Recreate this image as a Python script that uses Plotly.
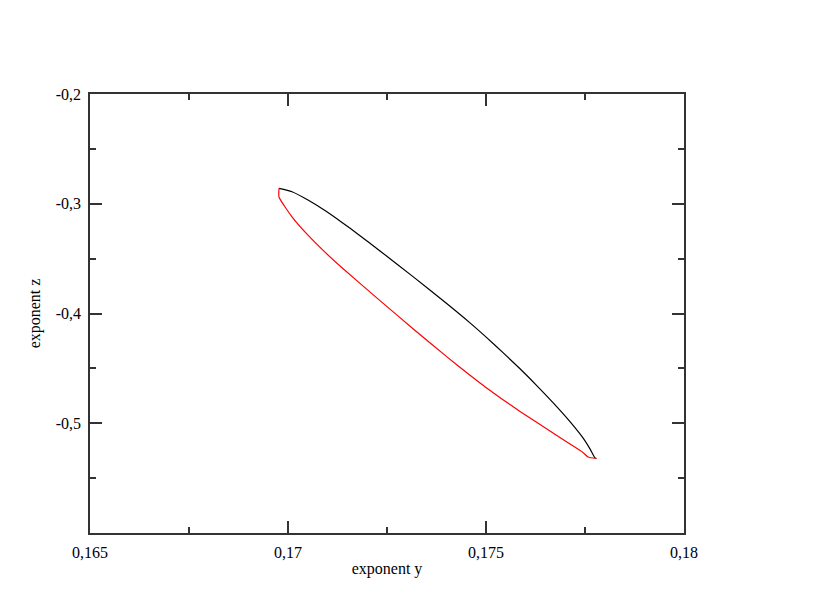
import plotly.graph_objects as go

# Upper boundary (black)
black_y = [0.169773, 0.170101, 0.170505, 0.170934, 0.171364, 0.171768, 0.172323,
           0.173157, 0.174015, 0.174596, 0.175025, 0.175429, 0.175859, 0.176288,
           0.176692, 0.177121, 0.177449, 0.177626, 0.177753, 0.177790]
black_z = [-0.28592, -0.28902, -0.29658, -0.30615, -0.31699, -0.32774, -0.34296,
           -0.36638, -0.39116, -0.40856, -0.42223, -0.43563, -0.45039, -0.46588,
           -0.48118, -0.49850, -0.51335, -0.52337, -0.53157, -0.53212]

# Lower boundary (red)
red_y = [0.169773, 0.169773, 0.170101, 0.170505, 0.170934, 0.171364, 0.172323,
         0.173157, 0.174015, 0.174596, 0.175025, 0.175429, 0.175859, 0.176288,
         0.176692, 0.177121, 0.177449, 0.177576, 0.177790]
red_z = [-0.28592, -0.29385, -0.31189, -0.32866, -0.34414, -0.35836, -0.38825,
         -0.41385, -0.43954, -0.45631, -0.46806, -0.47854, -0.48920, -0.49941,
         -0.50888, -0.51891, -0.52665, -0.53075, -0.53212]

x_tickvals = [0.165, 0.17, 0.175, 0.18]
x_ticktext = ["0,165", "0,17", "0,175", "0,18"]
x_minor = [0.1675, 0.1725, 0.1775]
y_tickvals = [-0.2, -0.3, -0.4, -0.5]
y_ticktext = ["-0,2", "-0,3", "-0,4", "-0,5"]
y_minor = [-0.25, -0.35, -0.45, -0.55]

fig = go.Figure()
fig.add_trace(go.Scatter(x=black_y, y=black_z, mode="lines",
                         line=dict(color="black", width=1.2, shape="spline", smoothing=0.6),
                         showlegend=False))
fig.add_trace(go.Scatter(x=red_y, y=red_z, mode="lines",
                         line=dict(color="red", width=1.2, shape="spline", smoothing=0.5),
                         showlegend=False))

tick_font = dict(family="Liberation Serif, Times New Roman, serif", size=16, color="black")
title_font = dict(family="Liberation Serif, Times New Roman, serif", size=16, color="black")


def axis(minor_vals):
    return dict(
        showgrid=False, zeroline=False, showline=True, linecolor="#333", linewidth=1.5,
        mirror="ticks", ticks="inside", ticklen=12, tickwidth=1.5, tickcolor="#333",
        tickfont=tick_font, ticklabelstandoff=4,
        minor=dict(ticks="inside", ticklen=6, tickwidth=1.5, tickcolor="#333",
                   showgrid=False, tickvals=minor_vals),
    )


fig.update_layout(
    width=809, height=602,
    margin=dict(l=82, r=133, t=86, b=77),
    paper_bgcolor="white", plot_bgcolor="white",
    font=tick_font,
    xaxis=dict(range=[0.165, 0.18], tickvals=x_tickvals, ticktext=x_ticktext,
               title=dict(text="exponent y", font=title_font, standoff=3),
               **axis(x_minor)),
    yaxis=dict(range=[-0.6, -0.2], tickvals=y_tickvals, ticktext=y_ticktext,
               title=dict(text="exponent z", font=title_font, standoff=11),
               **axis(y_minor)),
)

fig.write_html("out.html")
